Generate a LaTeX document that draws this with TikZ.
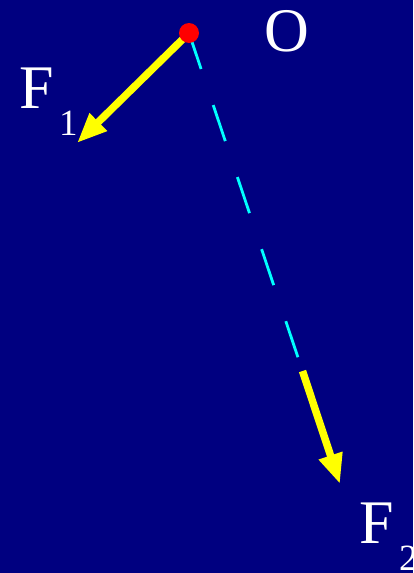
\documentclass[tikz,border=0pt]{standalone}
\usepackage{fontspec}
\setmainfont{Liberation Serif}
\usetikzlibrary{arrows.meta}
\definecolor{bgnavy}{HTML}{000080}
\definecolor{forceyellow}{HTML}{FFFF00}
\definecolor{guidecyan}{HTML}{00FFFF}
\definecolor{pivotred}{HTML}{FF0000}
\begin{document}
\begin{tikzpicture}[x=1pt,y=1pt,
  force/.style={draw=forceyellow,line width=7.5pt,-{Triangle[length=30pt,width=23pt,fill=forceyellow]}},
  guide/.style={draw=guidecyan,line width=2.8pt,dash pattern=on 38pt off 38pt},
  biglabel/.style={text=white,font=\fontsize{62}{62}\selectfont,inner sep=0pt,anchor=base west},
  sublabel/.style={text=white,font=\fontsize{37}{37}\selectfont,inner sep=0pt,anchor=base west},
  pivot/.style={circle,fill=pivotred,minimum size=20pt,inner sep=0pt}]
\fill[bgnavy] (0,0) rectangle (413,-573);
\useasboundingbox (0,0) rectangle (413,-573);
\coordinate (o) at (189,-33);
\coordinate (f1tip) at (77,-143);
\coordinate (gend) at (298.5,-359);
\coordinate (f2start) at (302.5,-371);
\coordinate (f2tip) at (340,-484);
\draw[guide] (o) -- (gend);
\draw[force] (o) -- (f1tip);
\draw[force] (f2start) -- (f2tip);
\node[pivot] (dot) at (o) {};
\node[biglabel] (labO) at (264,-51) {O};
\node[biglabel] (labF1) at (19,-108) {F};
\node[sublabel] (sub1) at (59,-135) {1};
\node[biglabel] (labF2) at (359,-543) {F};
\node[sublabel] (sub2) at (399,-570) {2};
\end{tikzpicture}
\end{document}
